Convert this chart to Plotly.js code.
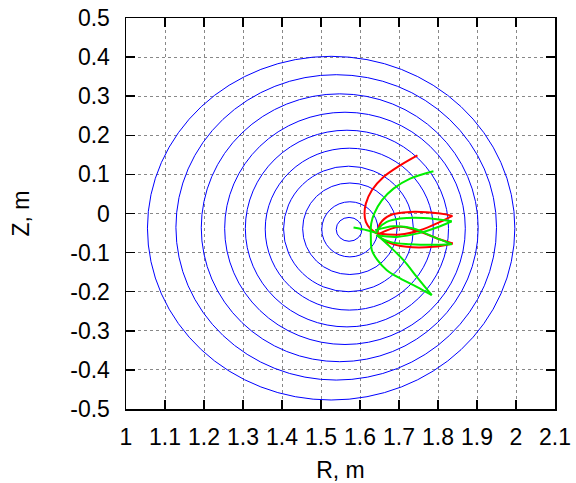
<!DOCTYPE html>
<html>
<head>
<meta charset="utf-8">
<script src="https://cdn.plot.ly/plotly-3.0.1.min.js"></script>
<style>html,body{margin:0;padding:0;background:#fff;}#chart{width:576px;height:483px;}</style>
</head>
<body>
<div id="chart"></div>
<script>
// Flux surfaces (outer -> inner): extents in R and Z (m)
var surfRmin = [1.055, 1.128, 1.193, 1.253, 1.306, 1.357, 1.404, 1.453, 1.502, 1.539];
var surfRmax = [1.997, 1.950, 1.903, 1.870, 1.827, 1.788, 1.737, 1.695, 1.646, 1.605];
var surfZmin = [-0.477, -0.426, -0.379, -0.335, -0.290, -0.247, -0.200, -0.156, -0.111, -0.071];
var surfZmax = [0.402, 0.355, 0.306, 0.259, 0.213, 0.167, 0.121, 0.078, 0.030, -0.010];

// Red trajectories
var redA_R = [1.7473, 1.7029, 1.6603, 1.6304, 1.6150, 1.6116, 1.6150, 1.6261, 1.6432];
var redA_Z = [0.1488, 0.1232, 0.0934, 0.0594, 0.0253, -0.0002, -0.0215, -0.0385, -0.0513];
var redUpTop_R = [1.6449, 1.6517, 1.6773, 1.7285, 1.8054, 1.8370];
var redUpTop_Z = [-0.0513, -0.0258, -0.0045, 0.0040, -0.0002, -0.0060];
var redUpBot_R = [1.6449, 1.7029, 1.7542, 1.8054, 1.8370];
var redUpBot_Z = [-0.0513, -0.0539, -0.0428, -0.0215, -0.0060];
var redLoTop_R = [1.6449, 1.7029, 1.7542, 1.8054, 1.8378];
var redLoTop_Z = [-0.0539, -0.0340, -0.0470, -0.0666, -0.0768];
var redLoBot_R = [1.6449, 1.6688, 1.7200, 1.7883, 1.8378];
var redLoBot_Z = [-0.0556, -0.0726, -0.0853, -0.0853, -0.0768];

// Green trajectories
var grnA_R = [1.7883, 1.7285, 1.6859, 1.6560, 1.6364, 1.6287, 1.6278, 1.6304, 1.6449, 1.6688, 1.7029, 1.7456, 1.7840];
var grnA_Z = [0.1079, 0.0892, 0.0636, 0.0338, -0.0002, -0.0258, -0.0598, -0.0939, -0.1194, -0.1449, -0.1662, -0.1875, -0.2088];
var grnB_R = [1.6449, 1.6773, 1.7115, 1.7456, 1.7840];
var grnB_Z = [-0.0556, -0.0853, -0.1194, -0.1620, -0.2088];
var grnC_R = [1.5834, 1.6176, 1.6415];
var grnC_Z = [-0.0360, -0.0428, -0.0496];
var grnUpTop_R = [1.6415, 1.6475, 1.6688, 1.7029, 1.7627, 1.8352];
var grnUpTop_Z = [-0.0513, -0.0385, -0.0215, -0.0130, -0.0113, -0.0198];
var grnUpBot_R = [1.6432, 1.6944, 1.7542, 1.8054, 1.8352];
var grnUpBot_Z = [-0.0556, -0.0598, -0.0496, -0.0326, -0.0198];
var grnLoTop_R = [1.6389, 1.6859, 1.7371, 1.7883, 1.8352];
var grnLoTop_Z = [-0.0428, -0.0326, -0.0385, -0.0598, -0.0785];
var grnLoBot_R = [1.6415, 1.6773, 1.7285, 1.7883, 1.8352];
var grnLoBot_Z = [-0.0556, -0.0726, -0.0785, -0.0802, -0.0785];

// Tick labels
var xTickVals = [1, 1.1, 1.2, 1.3, 1.4, 1.5, 1.6, 1.7, 1.8, 1.9, 2, 2.1];
var xTickText = ["1", "1.1", "1.2", "1.3", "1.4", "1.5", "1.6", "1.7", "1.8", "1.9", "2", "2.1"];
var yTickVals = [-0.5, -0.4, -0.3, -0.2, -0.1, 0, 0.1, 0.2, 0.3, 0.4, 0.5];
var yTickText = ["-0.5", "-0.4", "-0.3", "-0.2", "-0.1", "0", "0.1", "0.2", "0.3", "0.4", "0.5"];

var shapes = [];
for (var i = 0; i < surfRmin.length; i++) {
  shapes.push({type: 'circle', xref: 'x', yref: 'y', layer: 'between',
    x0: surfRmin[i], x1: surfRmax[i], y0: surfZmin[i], y1: surfZmax[i],
    line: {color: '#0000ff', width: 1}});
}

function tr(R, Z, color) {
  return {x: R, y: Z, type: 'scatter', mode: 'lines', hoverinfo: 'skip',
    line: {color: color, width: 2, shape: 'spline', smoothing: 1}};
}
var RED = '#ff0000', GRN = '#00ee00';
var data = [
  tr(redA_R, redA_Z, RED), tr(redUpTop_R, redUpTop_Z, RED), tr(redUpBot_R, redUpBot_Z, RED),
  tr(redLoTop_R, redLoTop_Z, RED), tr(redLoBot_R, redLoBot_Z, RED),
  tr(grnA_R, grnA_Z, GRN), tr(grnB_R, grnB_Z, GRN), tr(grnC_R, grnC_Z, GRN),
  tr(grnUpTop_R, grnUpTop_Z, GRN), tr(grnUpBot_R, grnUpBot_Z, GRN),
  tr(grnLoTop_R, grnLoTop_Z, GRN), tr(grnLoBot_R, grnLoBot_Z, GRN)
];

var FONT = 'Liberation Sans, Arial, sans-serif';
var axisCommon = {
  showline: true, linecolor: '#000', linewidth: 1.5, mirror: 'ticks',
  ticks: 'inside', ticklen: 9, tickwidth: 1.5, tickcolor: '#000',
  showgrid: true, gridcolor: '#888', griddash: 'dot', gridwidth: 1,
  zeroline: false, tickfont: {family: FONT, size: 23, color: '#000'},
  tickmode: 'array'
};

var layout = {
  width: 576, height: 483,
  margin: {l: 125.5, r: 21, t: 17.5, b: 74},
  paper_bgcolor: '#fff', plot_bgcolor: '#fff',
  showlegend: false,
  font: {family: FONT, size: 23, color: '#000'},
  xaxis: Object.assign({}, axisCommon, {range: [1, 2.1], tickvals: xTickVals, ticktext: xTickText,
    ticklabelstandoff: 7,
    title: {text: 'R, m', standoff: 15, font: {size: 23}}}),
  yaxis: Object.assign({}, axisCommon, {range: [-0.5, 0.5], tickvals: yTickVals, ticktext: yTickText,
    ticklabelstandoff: 10,
    title: {text: 'Z, m', standoff: 34, font: {size: 23}}}),
  shapes: shapes
};

Plotly.newPlot('chart', data, layout, {displayModeBar: false, staticPlot: true});
</script>
</body>
</html>
